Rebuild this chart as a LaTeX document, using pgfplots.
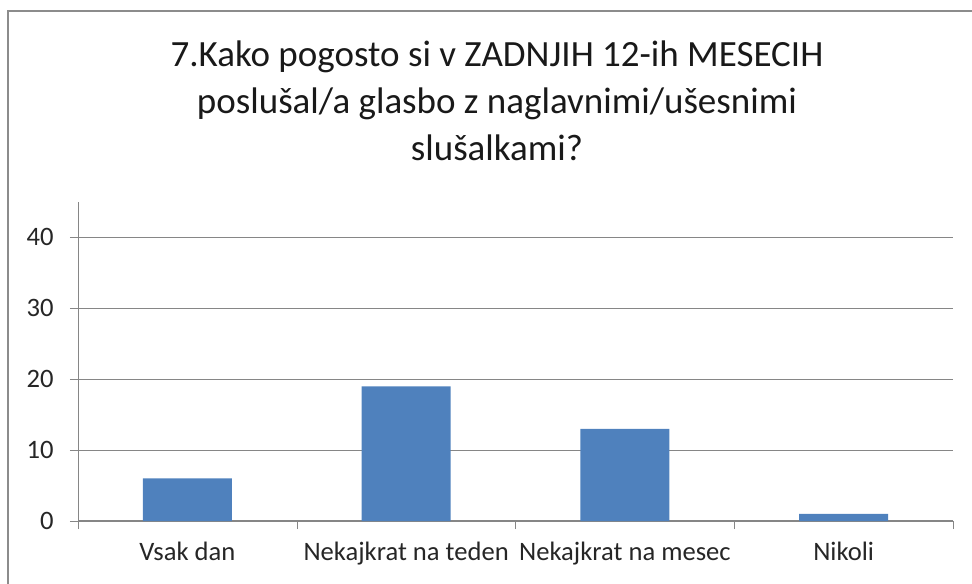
\documentclass[border=0pt]{standalone}
\usepackage{fontspec}
\setmainfont{Carlito}
\usepackage{pgfplots}
\pgfplotsset{compat=1.18}
\definecolor{barblue}{HTML}{4F81BD}
\definecolor{gridgray}{HTML}{868686}
\definecolor{framegray}{HTML}{8C8C8C}
\begin{document}
\begin{tikzpicture}
% picture size: 1px of the reference = 0.5pt, axis origin at px (78,521)
\useasboundingbox (-39pt,-31pt) rectangle (447pt,260.5pt);
\draw[framegray, line width=1pt] (-35pt,-45pt) rectangle (460pt,255pt);
\begin{axis}[
  at={(0pt,0pt)}, anchor=south west,
  scale only axis,
  width=437.5pt, height=159.5pt,
  xmin=-0.5, xmax=3.5,
  ymin=0, ymax=45,
  axis x line=bottom, axis y line=left,
  axis line style={gridgray, -},
  tick align=outside,
  tick style={gridgray},
  ytick={0,10,20,30,40},
  major tick length=4pt,
  ymajorgrids,
  grid style={gridgray, line width=0.6pt},
  xtick={0,1,2,3},
  xticklabels={Vsak dan, Nekajkrat na teden, Nekajkrat na mesec, Nikoli},
  major x tick style={draw=none},
  minor xtick={-0.5,0.5,1.5,2.5,3.5},
  minor tick length=4pt,
  every tick label/.append style={font=\fontsize{13.3}{15}\selectfont, text=black!85},
  /pgf/number format/assume math mode=true,
  yticklabel style={inner sep=0pt, xshift=-8pt},
  xticklabel style={inner sep=0pt, yshift=-6.5pt, anchor=north},
]
\addplot[ybar, bar width=0.407, fill=barblue, draw=none] coordinates {(0,6) (1,19) (2,13) (3,1)};
\end{axis}
\node[anchor=north, align=center, font=\fontsize{18.5}{23.5}\selectfont, text=black!90] at (209.5pt,243.5pt)
  {7.Kako pogosto si v ZADNJIH 12-ih MESECIH\\poslušal/a glasbo z naglavnimi/ušesnimi\\slušalkami?};
\end{tikzpicture}
\end{document}
